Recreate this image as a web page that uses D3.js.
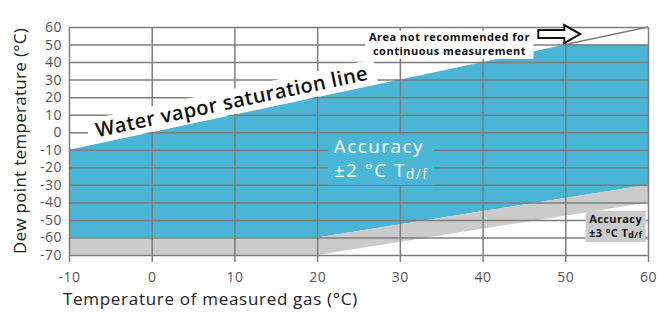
<!DOCTYPE html>
<html>
<head>
<meta charset="utf-8">
<script src="https://cdn.jsdelivr.net/npm/d3@7"></script>
<style>
  body { margin: 0; background: #fff; }
  text { font-family: "Open Sans", "Noto Sans", sans-serif; }
</style>
</head>
<body>
<script>
// tick values
var xTicks = [-10, 0, 10, 20, 30, 40, 50, 60];
var yTicks = [-70, -60, -50, -40, -30, -20, -10, 0, 10, 20, 30, 40, 50, 60];

// water vapor saturation line (upper edge of the usable area)
var satX = [-10, 50, 60];
var satY = [-10, 50, 50];

// lower edge of the ±2 °C area
var acc2X = [-10, 20, 60];
var acc2Y = [-60, -60, -30];

// lower edge of the ±3 °C area
var acc3X = [-10, 20, 60];
var acc3Y = [-70, -70, -40];

// "not recommended" corner
var limitX = [50, 60, 60];
var limitY = [50, 60, 50];

var svgWidth = 670;
var svgHeight = 314;

var margin = {top: 27, right: 22, bottom: 59, left: 69};

var width = svgWidth - margin.left - margin.right;
var height = svgHeight - margin.top - margin.bottom;

var svg = d3.select("body")
    .append("svg")
    .attr("width", svgWidth)
    .attr("height", svgHeight);

var chartGroup = svg.append("g")
    .attr("transform", `translate(${margin.left}, ${margin.top})`);

var xScale = d3.scaleLinear().domain([-10, 60]).range([0, width]);
var yScale = d3.scaleLinear().domain([-70, 60]).range([height, 0]);

function pts(xs, ys) {
    return xs.map((d, i) => [d, ys[i]]);
}

var line = d3.line()
    .x(d => xScale(d[0]))
    .y(d => yScale(d[1]));

// blue area: saturation line down to the ±2 °C edge
var bluePoly = pts(satX, satY).concat(pts(acc2X, acc2Y).reverse());
chartGroup.append("path")
    .attr("d", line(bluePoly) + "Z")
    .attr("fill", "#4bb5d6");

// grey area: ±2 °C edge down to the ±3 °C edge
var greyPoly = pts(acc2X, acc2Y).concat(pts(acc3X, acc3Y).reverse());
chartGroup.append("path")
    .attr("d", line(greyPoly) + "Z")
    .attr("fill", "#cbcbcb");

// grid via axes
var bottomAxis = d3.axisBottom(xScale)
    .tickValues(xTicks)
    .tickSize(height + 7)
    .tickPadding(10)
    .tickFormat(d => String(d));

var leftAxis = d3.axisLeft(yScale)
    .tickValues(yTicks)
    .tickSize(-width)
    .tickPadding(7)
    .tickFormat(d => String(d));

var gx = chartGroup.append("g").call(bottomAxis);
var gy = chartGroup.append("g").call(leftAxis);

[gx, gy].forEach(function(g) {
    g.select(".domain").remove();
    g.selectAll(".tick line").attr("stroke", "#7d7d7d").attr("stroke-width", 1.5);
    g.selectAll(".tick text")
        .attr("fill", "#555")
        .style("font-family", "'Open Sans', sans-serif")
        .style("font-size", "14px")
        .style("letter-spacing", "0.5px");
});

// not recommended corner: diagonal
chartGroup.append("path")
    .attr("d", line(pts(limitX, limitY).slice(0, 2)))
    .attr("stroke", "#7d7d7d")
    .attr("stroke-width", 1.5)
    .attr("fill", "none");

// saturation line label along the line
var angle = Math.atan2(yScale(satY[0]) - yScale(satY[1]), xScale(satX[1]) - xScale(satX[0])) * 180 / Math.PI;
var satLabel = chartGroup.append("g")
    .attr("transform", `translate(${xScale(10)}, ${yScale(10)}) rotate(${-angle})`);
satLabel.append("rect")
    .attr("x", -147).attr("y", -25.5)
    .attr("width", 294).attr("height", 25)
    .attr("fill", "#fff");
satLabel.append("text")
    .attr("x", 0).attr("y", -6.5)
    .attr("text-anchor", "middle")
    .style("font-size", "20px")
    .style("font-weight", "600")
    .style("letter-spacing", "0.45px")
    .attr("fill", "#111")
    .text("Water vapor saturation line");

// Accuracy ±2 °C label
var acc2 = chartGroup.append("g")
    .attr("transform", `translate(${xScale(30) - 66}, ${yScale(-10)})`);
acc2.append("rect")
    .attr("x", -6).attr("y", -15)
    .attr("width", 106).attr("height", 50)
    .attr("fill", "#4bb5d6");
var acc2Text = acc2.append("text")
    .attr("fill", "#fff")
    .style("font-size", "19px")
    .style("letter-spacing", "1.4px");
acc2Text.append("tspan").attr("x", 0).attr("y", 3).text("Accuracy");
var acc2Line = acc2Text.append("tspan").attr("x", 0).attr("y", 27).text("±2 °C T");
acc2Line.append("tspan").style("font-size", "14px").attr("dy", 2).text("d/f");

// Accuracy ±3 °C label
var acc3 = chartGroup.append("g")
    .attr("transform", `translate(${xScale(55) + 9}, ${yScale(-50)})`);
acc3.append("rect")
    .attr("x", -30).attr("y", -9)
    .attr("width", 60).attr("height", 31)
    .attr("fill", "#cbcbcb");
var acc3Text = acc3.append("text")
    .attr("text-anchor", "middle")
    .attr("fill", "#111")
    .style("font-size", "11px")
    .style("font-weight", "bold")
    .style("letter-spacing", "0.4px");
acc3Text.append("tspan").attr("x", 0).attr("y", 3).text("Accuracy");
var acc3Line = acc3Text.append("tspan").attr("x", 0).attr("y", 17).text("±3 °C T");
acc3Line.append("tspan").style("font-size", "9px").attr("dy", 1).text("d/f");

// Area not recommended note + arrow
var note = chartGroup.append("g")
    .attr("transform", `translate(${xScale(36)}, ${yScale(55)})`);
note.append("rect")
    .attr("x", -84).attr("y", -5)
    .attr("width", 168).attr("height", 28)
    .attr("fill", "#fff");
var noteStyle = function(t) {
    t.attr("text-anchor", "middle")
        .attr("fill", "#111")
        .style("font-size", "11px")
        .style("font-weight", "bold")
        .style("letter-spacing", "0.5px");
};
note.append("text").call(noteStyle).attr("x", 0).attr("y", 5).text("Area not recommended for");
note.append("text").call(noteStyle).attr("x", 0).attr("y", 19).text("continuous measurement");

var arrowX = xScale(50) - 27;
var arrowY = yScale(56);
var arrowPts = [[0, -4], [26, -4], [26, -9], [42, 0], [26, 9], [26, 4], [0, 4]];
chartGroup.append("path")
    .attr("d", d3.line()(arrowPts.map(p => [arrowX + p[0], arrowY + p[1]])) + "Z")
    .attr("fill", "#fff")
    .attr("stroke", "#111")
    .attr("stroke-width", 2);

// axis titles
svg.append("text")
    .attr("x", margin.left - 6)
    .attr("y", 305)
    .attr("fill", "#222")
    .style("font-size", "17px")
    .style("letter-spacing", "0.7px")
    .text("Temperature of measured gas (°C)");

svg.append("text")
    .attr("transform", `translate(26, ${margin.top + height / 2}) rotate(-90)`)
    .attr("text-anchor", "middle")
    .attr("fill", "#222")
    .style("font-size", "17px")
    .style("letter-spacing", "0.3px")
    .text("Dew point temperature (°C)");
</script>
</body>
</html>
